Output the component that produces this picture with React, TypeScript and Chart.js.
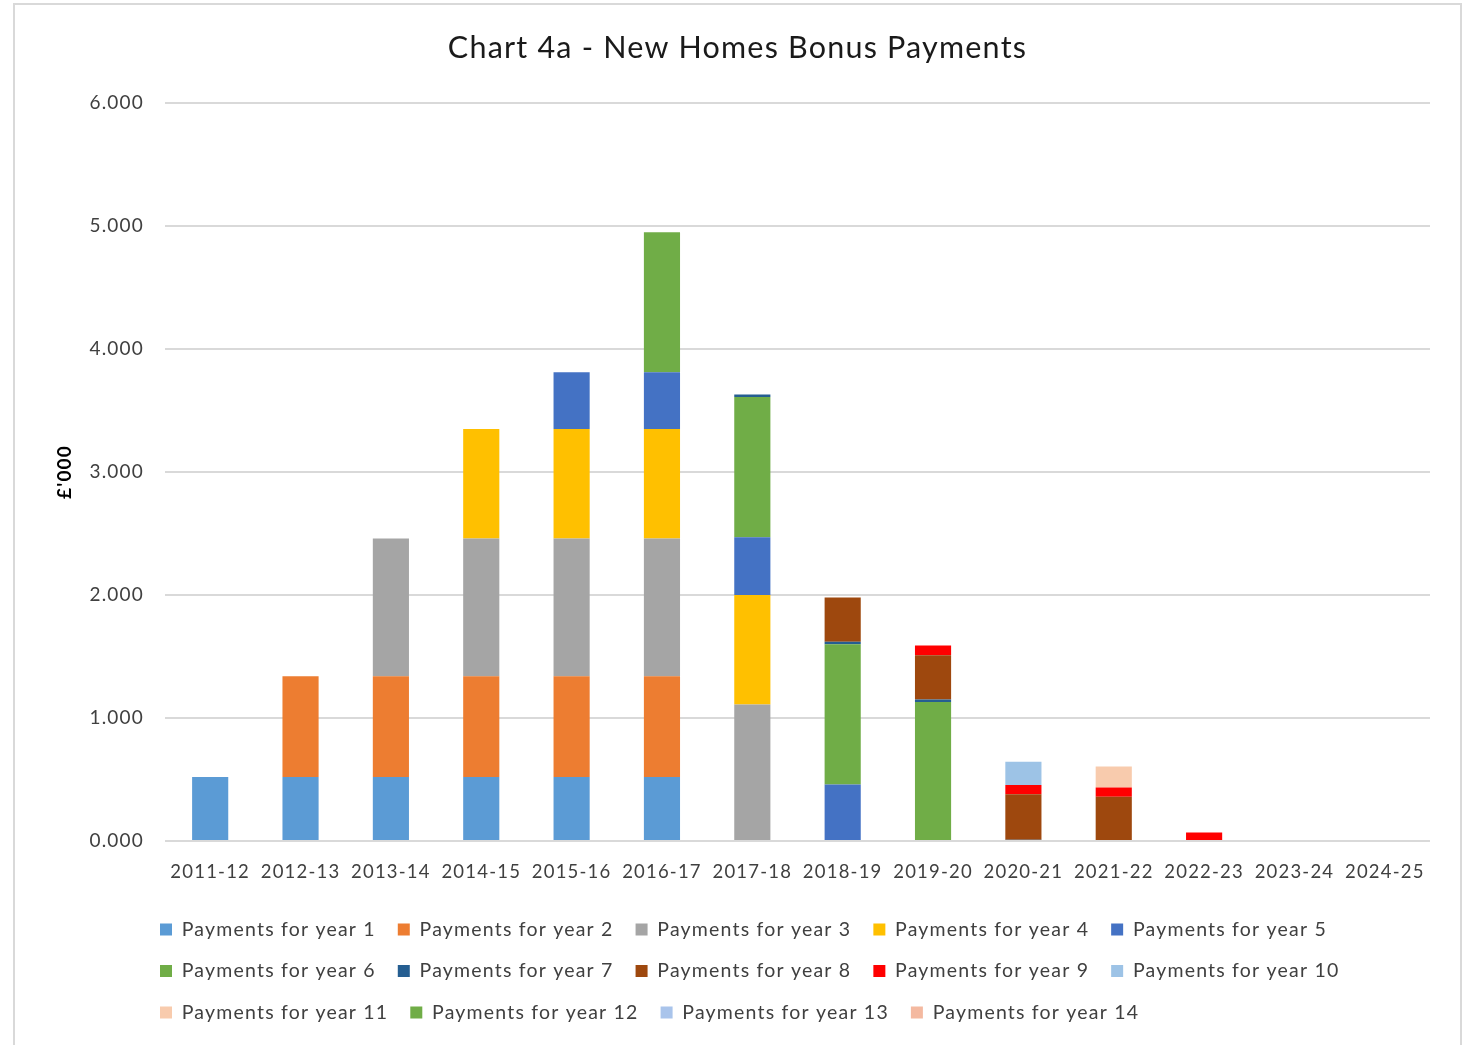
import React, { useEffect, useRef } from 'react';
import { Chart, registerables } from 'chart.js';

Chart.register(...registerables);

const categories = ['2011-12', '2012-13', '2013-14', '2014-15', '2015-16', '2016-17', '2017-18', '2018-19', '2019-20', '2020-21', '2021-22', '2022-23', '2023-24', '2024-25'];

const year1 = [0.52, 0.52, 0.52, 0.52, 0.52, 0.52, 0, 0, 0, 0, 0, 0, 0, 0];
const year2 = [0, 0.82, 0.82, 0.82, 0.82, 0.82, 0, 0, 0, 0, 0, 0, 0, 0];
const year3 = [0, 0, 1.12, 1.12, 1.12, 1.12, 1.11, 0, 0, 0, 0, 0, 0, 0];
const year4 = [0, 0, 0, 0.89, 0.89, 0.89, 0.89, 0, 0, 0, 0, 0, 0, 0];
const year5 = [0, 0, 0, 0, 0.46, 0.46, 0.47, 0.46, 0, 0, 0, 0, 0, 0];
const year6 = [0, 0, 0, 0, 0, 1.14, 1.14, 1.14, 1.13, 0, 0, 0, 0, 0];
const year7 = [0, 0, 0, 0, 0, 0, 0.02, 0.02, 0.02, 0.01, 0, 0, 0, 0];
const year8 = [0, 0, 0, 0, 0, 0, 0, 0.36, 0.36, 0.37, 0.36, 0, 0, 0];
const year9 = [0, 0, 0, 0, 0, 0, 0, 0, 0.08, 0.075, 0.075, 0.07, 0, 0];
const year10 = [0, 0, 0, 0, 0, 0, 0, 0, 0, 0.19, 0, 0, 0, 0];
const year11 = [0, 0, 0, 0, 0, 0, 0, 0, 0, 0, 0.17, 0, 0, 0];
const year12 = [0, 0, 0, 0, 0, 0, 0, 0, 0, 0, 0, 0, 0, 0];
const year13 = [0, 0, 0, 0, 0, 0, 0, 0, 0, 0, 0, 0, 0, 0];
const year14 = [0, 0, 0, 0, 0, 0, 0, 0, 0, 0, 0, 0, 0, 0];

const seriesNames = [
  'Payments for year 1', 'Payments for year 2', 'Payments for year 3', 'Payments for year 4',
  'Payments for year 5', 'Payments for year 6', 'Payments for year 7', 'Payments for year 8',
  'Payments for year 9', 'Payments for year 10', 'Payments for year 11', 'Payments for year 12',
  'Payments for year 13', 'Payments for year 14',
];

const seriesColors = [
  '#5B9BD5', '#ED7D31', '#A5A5A5', '#FFC000', '#4472C4', '#70AD47', '#255E91',
  '#9E480E', '#FF0000', '#9DC3E6', '#F8CBAD', '#70AD47', '#A9C4EB', '#F4B9A0',
];

const yMin = 0;
const yMax = 6;
const yStep = 1;

const FONT = 'Lato, "Open Sans", sans-serif';

export default function App() {
  const ref = useRef<HTMLCanvasElement>(null);

  useEffect(() => {
    if (!ref.current) return;
    const series = [year1, year2, year3, year4, year5, year6, year7, year8, year9, year10, year11, year12, year13, year14];
    const spacing = {
      id: 'spacing',
      beforeUpdate(chart: any) {
        chart.ctx.letterSpacing = '1.2px';
      },
      beforeDraw(chart: any) {
        chart.ctx.letterSpacing = '1.2px';
      },
      afterLayout(chart: any) {
        const lg = chart.legend;
        if (lg) {
          lg.left -= 27;
          lg.right -= 27;
        }
        const tb = chart.titleBlock;
        if (tb) {
          tb.left += 15;
          tb.right += 15;
        }
      },
    };
    const chart = new Chart(ref.current, {
      type: 'bar',
      data: {
        labels: categories,
        datasets: series.map((d, i) => ({
          label: seriesNames[i],
          data: d,
          backgroundColor: seriesColors[i],
          borderWidth: 0,
          barPercentage: 0.4,
          categoryPercentage: 1.0,
        })),
      },
      options: {
        animation: false,
        responsive: false,
        layout: { padding: { left: 0, right: 30, top: 0, bottom: 12.75 } },
        plugins: {
          title: {
            display: true,
            text: 'Chart 4a - New Homes Bonus Payments',
            color: '#1a1a1a',
            font: { family: FONT, size: 30.5, weight: 'normal' },
            padding: { top: 24.5, bottom: 36.9 },
          },
          legend: {
            position: 'bottom',
            align: 'start',
            fullSize: false,
            labels: {
              boxWidth: 12,
              boxHeight: 12,
              padding: 22,
              color: '#404040',
              font: { family: FONT, size: 19.5 },
            },
          },
          tooltip: { enabled: false },
        },
        scales: {
          x: {
            stacked: true,
            grid: { display: false, drawTicks: false },
            border: { display: false },
            ticks: {
              color: '#404040',
              font: { family: FONT, size: 18.5 },
              padding: 20,
              maxRotation: 0,
              autoSkip: false,
            },
            afterFit: (s: any) => { s.height = 56.75; },
          },
          y: {
            stacked: true,
            min: yMin,
            max: yMax,
            ticks: {
              stepSize: yStep,
              callback: (v: any) => Number(v).toFixed(3),
              color: '#404040',
              font: { family: FONT, size: 19 },
              padding: 21,
            },
            grid: { color: '#d9d9d9', lineWidth: 2, drawTicks: false },
            border: { display: false },
            title: {
              display: true,
              text: "£'000",
              color: '#000000',
              font: { family: FONT, size: 19, weight: 'bold' },
              padding: { top: 38.6, bottom: 0 },
            },
            afterFit: (s: any) => { s.width = 150; },
          },
        },
      },
      plugins: [spacing],
    } as any);
    return () => chart.destroy();
  }, []);

  return (
    <div style={{ position: 'fixed', left: 0, top: 0, right: 0, bottom: 0, overflow: 'hidden', background: '#fff' }}>
      <div style={{ position: 'absolute', left: 13, top: 3, width: 1449, height: 1060, border: '2px solid #d9d9d9', boxSizing: 'border-box' }} />
      <canvas ref={ref} width={1445} height={1040} style={{ position: 'absolute', left: 15, top: 5, display: 'block' }} />
    </div>
  );
}
